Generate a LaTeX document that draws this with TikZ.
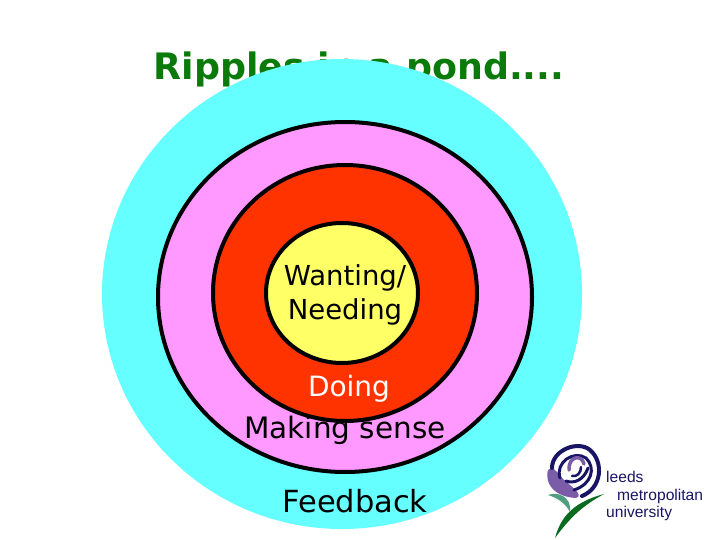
\documentclass[tikz,border=0pt]{standalone}
\usepackage{fontspec}
\setmainfont{DejaVu Sans}
\newfontfamily\logofont{Liberation Sans}
\usepackage{xcolor}
\definecolor{pondblue}{HTML}{66FFFF}
\definecolor{pondpink}{HTML}{FF99FF}
\definecolor{pondred}{HTML}{FF3300}
\definecolor{pondyellow}{HTML}{FFFF66}
\definecolor{titlegreen}{HTML}{0A7A0A}
\definecolor{rosenavy}{HTML}{1A1464}
\definecolor{rosepurple}{HTML}{7B5CA8}
\definecolor{rosegreen}{HTML}{0A6A1E}
\definecolor{leafgreen}{HTML}{4F9F80}
\tikzset{
  ring/.style={draw=black, line width=4pt},
  ringlabel/.style={inner sep=0pt, align=center, font=\fontsize{29.5}{35}\selectfont},
  logotext/.style={inner sep=0pt, anchor=base west, text=rosenavy, font=\logofont\fontsize{15.6}{15.6}\selectfont}
}
\begin{document}
\begin{tikzpicture}[x=1pt,y=-1pt]
  \useasboundingbox (0,0) rectangle (720,540);
  \node[inner sep=0pt, text=titlegreen, font=\bfseries\fontsize{36.4}{36.4}\selectfont] (title) at (359,69) {Ripples in a pond....};
  \fill[pondblue] (342,294) ellipse [x radius=240, y radius=235];
  \foreach \cx/\cy/\rx/\ry/\col in {
    345/297/187/175/pondpink,
    345/293/132/128/pondred,
    342/293/76/70/pondyellow}{
    \draw[ring, fill=\col] (\cx,\cy) ellipse [x radius=\rx, y radius=\ry];
  }
  \node[ringlabel, font=\fontsize{27.5}{34}\selectfont] (wanting) at (345,295) {Wanting/\\Needing};
  \node[ringlabel, text=white, font=\fontsize{28}{34}\selectfont] (doing) at (349,389) {Doing};
  \node[ringlabel] (making) at (345,430) {Making sense};
  \node[ringlabel, font=\fontsize{30.5}{35}\selectfont] (feedback) at (355,501) {Feedback};
  % logo
  \fill[rosepurple] (548,470) .. controls (544,485) and (556,497) .. (576,498) .. controls (585,495) and (570,486) .. (560,476) .. controls (556,470) and (552,466) .. (548,470) -- cycle;
  \draw[rosenavy, line width=4pt, line cap=round] (552,468) .. controls (552,450) and (578,440) .. (590,450) .. controls (604,462) and (602,488) .. (582,496);
  \draw[rosenavy, line width=3pt, line cap=round] (560,478) .. controls (555,462) and (574,450) .. (586,458) .. controls (596,468) and (592,484) .. (574,490);
  \draw[rosepurple, line width=3.5pt, line cap=round] (569,470) .. controls (568,456) and (582,454) .. (584,464);
  \draw[rosenavy, line width=3pt, line cap=round] (566,481) .. controls (574,484) and (584,480) .. (588,468);
  \draw[rosenavy, line width=2.5pt, line cap=round] (572,476) .. controls (577,477) and (581,473) .. (581,467);
  \fill[rosegreen] (555,538) .. controls (560,520) and (570,503) .. (604,494) .. controls (588,503) and (574,512) .. (555,538) -- cycle;
  \fill[leafgreen] (548,495) .. controls (558,491) and (572,497) .. (570,512) .. controls (566,504) and (558,498) .. (548,495) -- cycle;
  \node[logotext] (leeds) at (606,482) {leeds};
  \node[logotext] (metropolitan) at (617,500) {metropolitan};
  \node[logotext] (university) at (606,517) {university};
\end{tikzpicture}
\end{document}
